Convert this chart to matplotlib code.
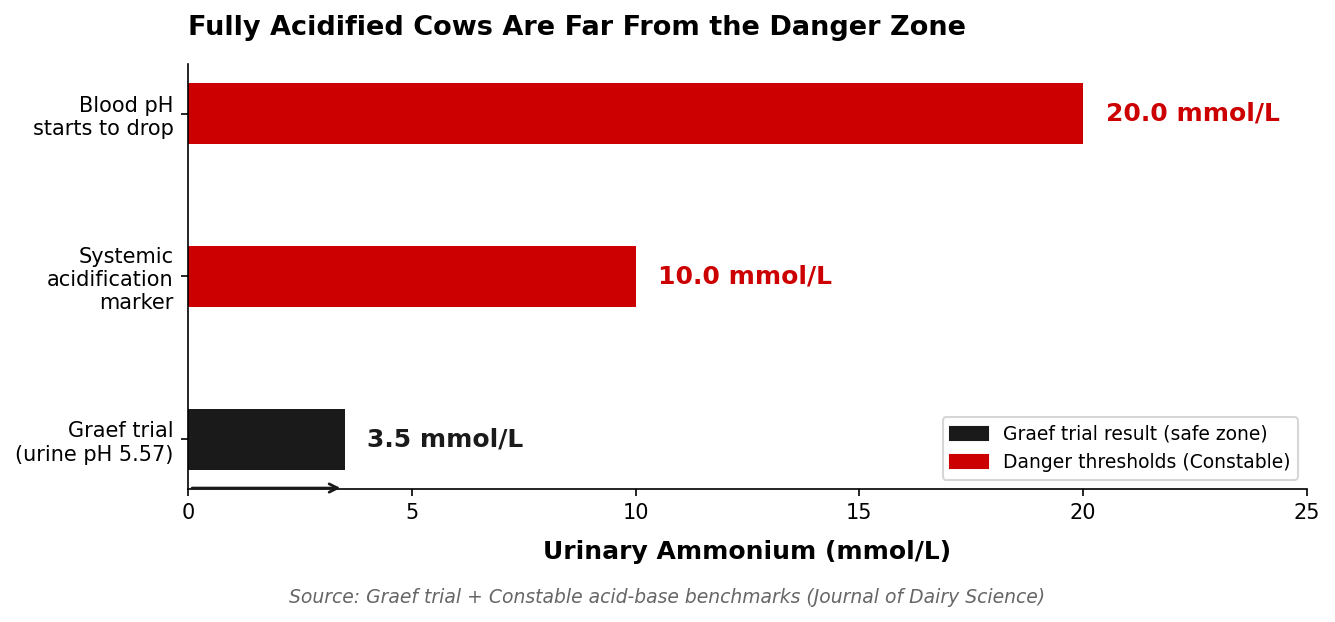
import matplotlib
matplotlib.use("Agg")
import matplotlib.pyplot as plt
from matplotlib.patches import Patch

plt.rcParams["font.family"] = ["DejaVu Sans"]

# data
labels = ["Graef trial\n(urine pH 5.57)", "Systemic\nacidification\nmarker", "Blood pH\nstarts to drop"]
values = [3.5, 10.0, 20.0]
colors = ["#1a1a1a", "#cc0000", "#cc0000"]

fig, ax = plt.subplots(figsize=(8.9, 4.1467), dpi=150)
fig.subplots_adjust(left=0.1408, right=0.9790, top=0.897, bottom=0.214)

ypos = range(len(values))
ax.barh(ypos, values, height=0.37, color=colors)
ax.set_yticks(list(ypos))
ax.set_yticklabels(labels, fontsize=10)
ax.set_ylim(-0.3035, 2.3035)
ax.set_xlim(0, 25)
ax.tick_params(axis="x", labelsize=10)

# value labels next to each bar
for y, v, c in zip(ypos, values, colors):
    ax.text(v + 0.5, y, f"{v:.1f} mmol/L", va="center", ha="left",
            fontsize=12, fontweight="bold", color=c)

# arrow along the axis under the trial bar
ax.annotate("", xy=(values[0], 0.002), xytext=(0, 0.002),
            xycoords=("data", "axes fraction"), textcoords=("data", "axes fraction"),
            arrowprops=dict(arrowstyle="->", color="#1a1a1a", lw=1.3))

ax.spines["top"].set_visible(False)
ax.spines["right"].set_visible(False)

ax.set_xlabel("Urinary Ammonium (mmol/L)", fontsize=12, fontweight="bold", labelpad=8)
ax.set_title("Fully Acidified Cows Are Far From the Danger Zone", fontsize=13,
             fontweight="bold", loc="left", pad=14)

handles = [Patch(color="#1a1a1a", label="Graef trial result (safe zone)"),
           Patch(color="#cc0000", label="Danger thresholds (Constable)")]
ax.legend(handles=handles, loc="lower right", fontsize=9)

fig.text(0.5, 0.04, "Source: Graef trial + Constable acid-base benchmarks (Journal of Dairy Science)",
         ha="center", va="center", fontsize=9, style="italic", color="#666666")

fig.savefig("out.png", dpi=150)
